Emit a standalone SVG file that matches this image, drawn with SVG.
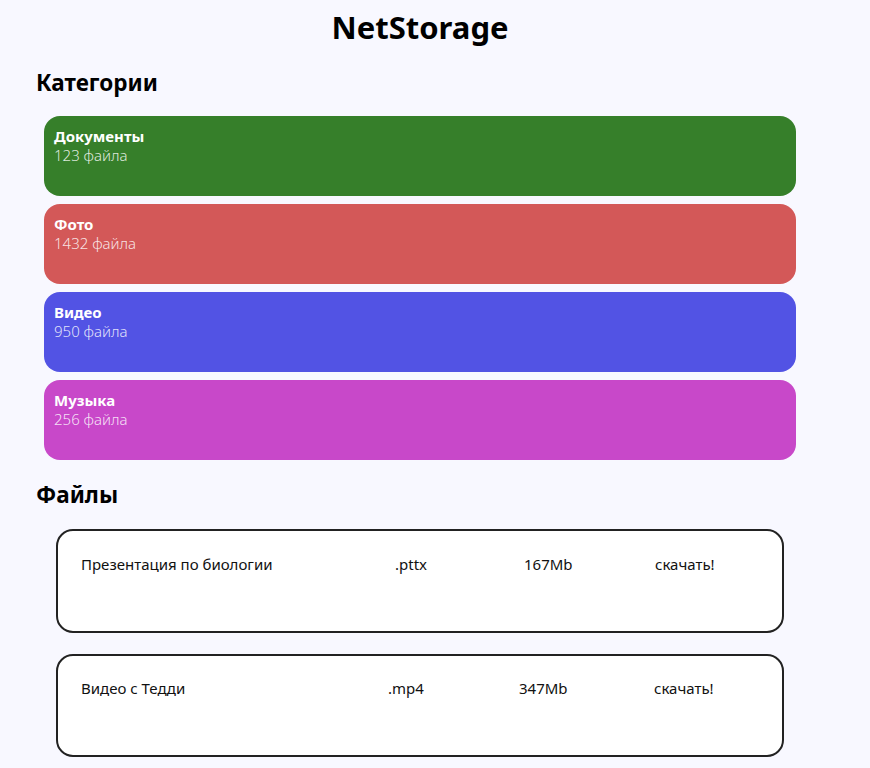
<svg xmlns="http://www.w3.org/2000/svg" width="870" height="768" viewBox="0 0 870 768">
<style>
text{font-family:"Noto Sans","Open Sans",sans-serif}
.h1{font-size:31px;font-weight:700;fill:#000}
.h2{font-size:22.5px;font-weight:700;fill:#000}
.ct{font-size:15px;font-weight:700;fill:#fff}
.cs{font-size:15px;font-weight:300;fill:#fff;fill-opacity:.85}
.file{fill:#fff;stroke:#222;stroke-width:2}
.ft{font-size:15px;fill:#111}
</style>
<rect width="870" height="768" fill="#f8f8ff"/>
<text class="h1" x="420" y="39" text-anchor="middle">NetStorage</text>
<text class="h2" x="36" y="91">Категории</text>
<g id="cat-docs"><rect x="44" y="116" width="752" height="80" rx="16" fill="#367f2a"/><text class="ct" x="54" y="142">Документы</text><text class="cs" x="54" y="161">123 файла</text></g>
<g id="cat-photo"><rect x="44" y="204" width="752" height="80" rx="16" fill="#d35858"/><text class="ct" x="54" y="230">Фото</text><text class="cs" x="54" y="249">1432 файла</text></g>
<g id="cat-video"><rect x="44" y="292" width="752" height="80" rx="16" fill="#5253e4"/><text class="ct" x="54" y="318">Видео</text><text class="cs" x="54" y="337">950 файла</text></g>
<g id="cat-music"><rect x="44" y="380" width="752" height="80" rx="16" fill="#c848c9"/><text class="ct" x="54" y="406">Музыка</text><text class="cs" x="54" y="425">256 файла</text></g>
<text class="h2" x="36" y="503">Файлы</text>
<g id="file-1"><rect class="file" x="57" y="530" width="726" height="102" rx="16"/><text class="ft" x="81" y="570">Презентация по биологии</text><text class="ft" x="395" y="570">.pttx</text><text class="ft" x="524" y="570">167Mb</text><text class="ft" x="655" y="570">скачать!</text></g>
<g id="file-2"><rect class="file" x="57" y="655" width="726" height="101" rx="16"/><text class="ft" x="81" y="694">Видео с Тедди</text><text class="ft" x="388" y="694">.mp4</text><text class="ft" x="519" y="694">347Mb</text><text class="ft" x="654" y="694">скачать!</text></g>
<g id="connectors"/>
</svg>
